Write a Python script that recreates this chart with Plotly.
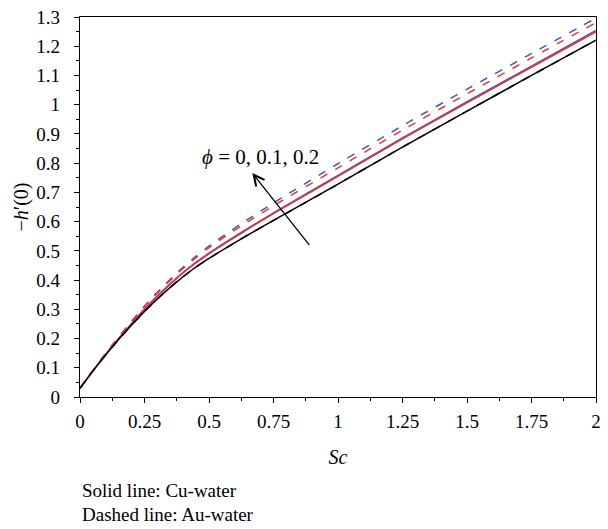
import plotly.graph_objects as go

sc = [0.0, 0.0625, 0.125, 0.1875, 0.25, 0.3125, 0.375, 0.4375, 0.5, 0.625, 0.75, 1.0, 1.25, 1.5, 1.75, 2.0]

cu_phi0 = [0.030, 0.103, 0.171, 0.234, 0.293, 0.346, 0.394, 0.437, 0.474, 0.541, 0.604, 0.728, 0.855, 0.978, 1.100, 1.221]
cu_phi01 = [0.030, 0.104, 0.174, 0.238, 0.300, 0.355, 0.406, 0.451, 0.490, 0.560, 0.627, 0.755, 0.883, 1.006, 1.128, 1.249]
cu_phi02 = [0.030, 0.104, 0.174, 0.239, 0.301, 0.357, 0.408, 0.453, 0.492, 0.563, 0.630, 0.758, 0.886, 1.010, 1.132, 1.254]
au_phi01 = [0.030, 0.106, 0.177, 0.245, 0.309, 0.367, 0.420, 0.468, 0.511, 0.585, 0.654, 0.784, 0.913, 1.037, 1.160, 1.281]
au_phi02 = [0.030, 0.106, 0.178, 0.246, 0.311, 0.370, 0.424, 0.473, 0.516, 0.593, 0.664, 0.798, 0.928, 1.053, 1.175, 1.296]

BLACK = "#000000"
RED = "#e8323a"
BLUE = "#4358ac"
FONT = "Liberation Serif"

fig = go.Figure()
series = [
    (au_phi02, BLUE, "8px,9px", "Au φ=0.2"),
    (au_phi01, RED, "8px,9px", "Au φ=0.1"),
    (cu_phi0, BLACK, "8px,9px", "Au φ=0"),
    (cu_phi02, BLUE, "solid", "Cu φ=0.2"),
    (cu_phi01, RED, "solid", "Cu φ=0.1"),
    (cu_phi0, BLACK, "solid", "Cu φ=0"),
]
for ys, col, dash, name in series:
    fig.add_trace(go.Scatter(x=sc, y=ys, mode="lines", name=name,
                             line=dict(color=col, width=1.5, dash=dash, shape="spline", smoothing=0.8)))

fig.add_annotation(x=0.668, y=0.766, ax=0.893, ay=0.515, xref="x", yref="y",
                   axref="x", ayref="y", text="", showarrow=True,
                   arrowhead=5, arrowsize=1.6, arrowwidth=1.3, arrowcolor="black")
fig.add_annotation(x=0.70, y=0.822, xref="x", yref="y", showarrow=False,
                   text="<i>ϕ</i>\u00a0=\u00a00,\u00a00.1,\u00a00.2",
                   font=dict(family=FONT, size=21, color="black"))

fig.add_annotation(x=0, y=-0.245, xref="paper", yref="paper", xanchor="left", yanchor="middle",
                   showarrow=False, text="Solid line: Cu-water",
                   font=dict(family=FONT, size=19, color="black"))
fig.add_annotation(x=0, y=-0.309, xref="paper", yref="paper", xanchor="left", yanchor="middle",
                   showarrow=False, text="Dashed line: Au-water",
                   font=dict(family=FONT, size=19, color="black"))

axis_common = dict(showline=True, linecolor="black", linewidth=1.3, mirror=True,
                   ticks="outside", ticklen=5, tickwidth=1.2, tickcolor="black",
                   showgrid=False, zeroline=False,
                   tickfont=dict(family=FONT, size=19, color="black"))

fig.update_xaxes(range=[0, 2], dtick=0.25, tick0=0, ticklabelstandoff=2,
                 minor=dict(dtick=0.125, ticks="outside", ticklen=3, tickcolor="black", tickwidth=1),
                 title=dict(text="<i>Sc</i>", font=dict(family=FONT, size=20, color="black"), standoff=19),
                 **axis_common)
fig.update_yaxes(range=[0, 1.3], dtick=0.1, tick0=0, ticklabelstandoff=10,
                 minor=dict(dtick=0.05, ticks="outside", ticklen=3, tickcolor="black", tickwidth=1),
                 title=dict(text="−<i>h</i>′(0)", font=dict(family=FONT, size=20, color="black"), standoff=2),
                 **axis_common)

fig.update_layout(width=608, height=529, margin=dict(l=80, r=7, t=14, b=132),
                  plot_bgcolor="white", paper_bgcolor="white", showlegend=False)

fig.write_html("out.html")
